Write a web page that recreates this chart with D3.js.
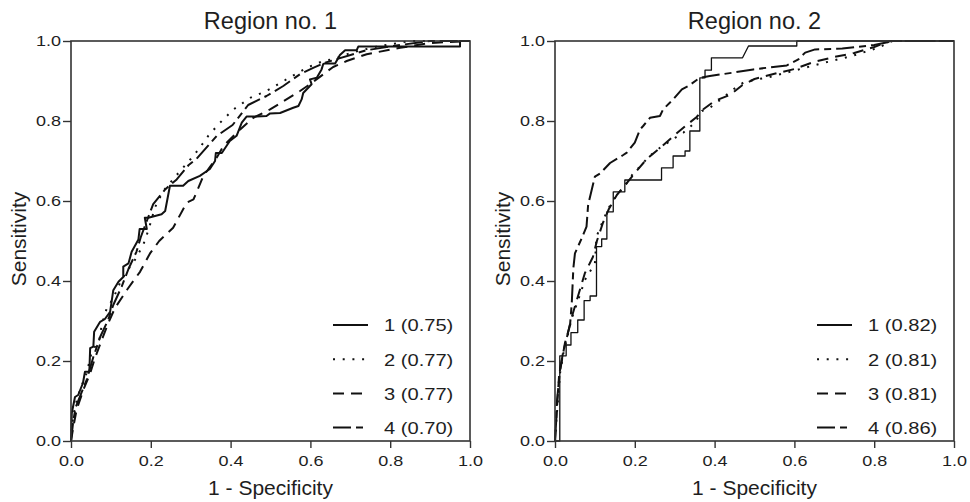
<!DOCTYPE html>
<html><head><meta charset="utf-8">
<script src="https://cdn.jsdelivr.net/npm/d3@7"></script>
<style>
body{margin:0;background:#fff}
svg{display:block}
text{font-family:"Liberation Sans",Arial,Helvetica,sans-serif;fill:#1e1e1e}
</style></head><body>
<svg id="c" width="970" height="502"></svg>
<script>
// ---- data ----
const titles = ["Region no. 1", "Region no. 2"];
const xTicks = [0, 0.2, 0.4, 0.6, 0.8, 1.0];
const yTicks = [0, 0.2, 0.4, 0.6, 0.8, 1.0];
const xLabel = "1 - Specificity";
const yLabel = "Sensitivity";
const seriesNames = ["1", "2", "3", "4"];
const aucR1 = ["0.75", "0.77", "0.77", "0.70"];
const aucR2 = ["0.82", "0.81", "0.81", "0.86"];

// Region 1 curves [1-specificity, sensitivity]
const r1s1 = [[0,0],[0.002,0.07],[0.01,0.11],[0.018,0.115],[0.03,0.145],[0.035,0.173],[0.046,0.173],[0.048,0.232],[0.056,0.236],[0.058,0.273],[0.073,0.298],[0.085,0.305],[0.098,0.323],[0.106,0.377],[0.119,0.398],[0.131,0.41],[0.131,0.436],[0.144,0.444],[0.152,0.473],[0.169,0.504],[0.172,0.53],[0.19,0.53],[0.185,0.558],[0.194,0.558],[0.227,0.567],[0.236,0.575],[0.248,0.638],[0.281,0.638],[0.294,0.65],[0.323,0.663],[0.348,0.68],[0.361,0.7],[0.363,0.72],[0.378,0.72],[0.398,0.75],[0.415,0.763],[0.428,0.796],[0.44,0.811],[0.465,0.811],[0.49,0.8125],[0.499,0.819],[0.524,0.82],[0.557,0.833],[0.57,0.8375],[0.578,0.854],[0.582,0.87],[0.603,0.892],[0.599,0.904],[0.616,0.908],[0.628,0.929],[0.632,0.942],[0.636,0.944],[0.662,0.944],[0.674,0.965],[0.687,0.977],[0.716,0.977],[0.72,0.986],[0.975,0.986],[0.975,1],[1,1]];
const r1s2 = [[0,0],[0.002,0.036],[0.01,0.086],[0.023,0.13],[0.039,0.169],[0.052,0.223],[0.071,0.2525],[0.077,0.29],[0.089,0.33],[0.106,0.357],[0.125,0.4],[0.144,0.43],[0.16,0.4525],[0.181,0.49],[0.195,0.53],[0.21,0.583],[0.231,0.625],[0.265,0.665],[0.3,0.705],[0.319,0.728],[0.344,0.763],[0.372,0.794],[0.406,0.828],[0.449,0.858],[0.49,0.875],[0.54,0.904],[0.591,0.933],[0.632,0.95],[0.66,0.955],[0.7,0.97],[0.766,0.986],[0.85,1],[1,1]];
const r1s3 = [[0,0],[0.006,0.036],[0.014,0.078],[0.031,0.128],[0.048,0.169],[0.06,0.207],[0.077,0.2525],[0.093,0.294],[0.11,0.332],[0.14,0.3775],[0.173,0.423],[0.198,0.469],[0.221,0.5],[0.256,0.533],[0.29,0.596],[0.307,0.604],[0.332,0.663],[0.365,0.708],[0.382,0.7375],[0.424,0.779],[0.457,0.808],[0.499,0.829],[0.54,0.854],[0.574,0.875],[0.599,0.892],[0.657,0.935],[0.691,0.95],[0.741,0.967],[0.825,0.983],[0.9,0.995],[1,1]];
const r1s4 = [[0,0],[0.006,0.0525],[0.012,0.085],[0.039,0.1525],[0.056,0.21],[0.073,0.26],[0.093,0.3025],[0.106,0.34],[0.127,0.386],[0.144,0.43],[0.164,0.473],[0.175,0.51],[0.19,0.55],[0.206,0.592],[0.236,0.629],[0.265,0.654],[0.295,0.69],[0.315,0.706],[0.365,0.7625],[0.405,0.79],[0.444,0.84],[0.49,0.8625],[0.532,0.8875],[0.574,0.917],[0.607,0.933],[0.637,0.946],[0.741,0.977],[0.825,0.99],[0.9,1],[1,1]];

// Region 2 curves
const r2s1 = [[0,0],[0.012,0],[0.012,0.213],[0.028,0.213],[0.028,0.24],[0.04,0.24],[0.04,0.271],[0.057,0.271],[0.057,0.3025],[0.073,0.3025],[0.073,0.351],[0.088,0.351],[0.088,0.3625],[0.104,0.3625],[0.104,0.486],[0.117,0.486],[0.117,0.505],[0.13,0.505],[0.13,0.573],[0.146,0.573],[0.146,0.623],[0.175,0.623],[0.175,0.6525],[0.267,0.6525],[0.267,0.683],[0.296,0.683],[0.296,0.7125],[0.326,0.7125],[0.326,0.725],[0.338,0.725],[0.338,0.775],[0.363,0.775],[0.363,0.908],[0.376,0.908],[0.376,0.927],[0.392,0.927],[0.392,0.958],[0.47,0.958],[0.485,0.9875],[0.606,0.9875],[0.606,1],[1,1]];
const r2s2 = [[0,0],[0.002,0.03],[0.004,0.06],[0.008,0.11],[0.0125,0.169],[0.021,0.219],[0.033,0.269],[0.042,0.307],[0.058,0.3525],[0.075,0.4025],[0.1,0.444],[0.104,0.511],[0.121,0.5525],[0.134,0.582],[0.155,0.615],[0.171,0.632],[0.196,0.669],[0.217,0.69],[0.234,0.71],[0.263,0.733],[0.301,0.758],[0.322,0.771],[0.351,0.796],[0.368,0.825],[0.388,0.833],[0.421,0.858],[0.447,0.879],[0.472,0.896],[0.505,0.904],[0.53,0.908],[0.581,0.921],[0.66,0.942],[0.744,0.9625],[0.81,0.983],[0.845,1],[1,1]];
const r2s3 = [[0,0],[0.003,0.05],[0.006,0.1],[0.01,0.16],[0.017,0.2],[0.025,0.245],[0.035,0.28],[0.045,0.32],[0.06,0.37],[0.075,0.42],[0.095,0.46],[0.105,0.5],[0.12,0.545],[0.135,0.58],[0.155,0.615],[0.18,0.645],[0.2,0.67],[0.23,0.705],[0.26,0.73],[0.3,0.765],[0.33,0.79],[0.355,0.81],[0.37,0.828],[0.4,0.85],[0.44,0.866],[0.47,0.89],[0.5,0.905],[0.55,0.918],[0.6,0.93],[0.65,0.948],[0.7,0.96],[0.75,0.97],[0.8,0.985],[0.84,1],[1,1]];
const r2s4 = [[0,0],[0.003,0.05],[0.005,0.1],[0.0125,0.1775],[0.02,0.22],[0.03,0.26],[0.038,0.294],[0.042,0.344],[0.046,0.432],[0.05,0.469],[0.067,0.507],[0.079,0.536],[0.083,0.59],[0.1,0.661],[0.113,0.669],[0.138,0.695],[0.171,0.715],[0.18,0.721],[0.2,0.746],[0.213,0.779],[0.221,0.7875],[0.238,0.808],[0.263,0.8125],[0.271,0.829],[0.296,0.854],[0.318,0.879],[0.334,0.8875],[0.363,0.908],[0.388,0.9125],[0.447,0.921],[0.497,0.929],[0.581,0.939],[0.61,0.954],[0.627,0.971],[0.652,0.979],[0.72,0.981],[0.8,0.99],[0.85,1],[1,1]];

// ---- drawing ----
const svg = d3.select("#c");
const W = 399, H = 400, topY = 41;
const dashes = [null, "2,7.7", "11,7", "18,5,7,5"];
const widths = [[2, 2, 2, 2], [1.3, 2, 2, 2]];
const panels = [
  {x0: 71, title: titles[0], series: [r1s1, r1s2, r1s3, r1s4], auc: aucR1},
  {x0: 555, title: titles[1], series: [r2s1, r2s2, r2s3, r2s4], auc: aucR2}
];
const numScale = 1.2;

panels.forEach((p, pi) => {
  const g = svg.append("g").attr("transform", `translate(${p.x0},${topY})`);
  const x = d3.scaleLinear().domain([0, 1]).range([0, W]);
  const y = d3.scaleLinear().domain([0, 1]).range([H, 0]);

  const line = d3.line().x(d => x(d[0])).y(d => y(d[1]));
  p.series.forEach((s, i) => {
    g.append("path").datum(s).attr("d", line)
      .attr("fill", "none").attr("stroke", "#111")
      .attr("stroke-width", widths[pi][i])
      .attr("stroke-linejoin", "round")
      .attr("stroke-dasharray", dashes[i]);
  });

  // frame
  g.append("rect").attr("x", 0).attr("y", 0).attr("width", W).attr("height", H)
    .attr("fill", "none").attr("stroke", "#333").attr("stroke-width", 1.6);

  // axes
  const xa = g.append("g").attr("transform", `translate(0,${H})`)
    .call(d3.axisBottom(x).tickValues(xTicks).tickSize(7).tickPadding(7).tickFormat(d3.format(".1f")));
  const ya = g.append("g")
    .call(d3.axisLeft(y).tickValues(yTicks).tickSize(8).tickPadding(2).tickFormat(d3.format(".1f")));
  [xa, ya].forEach(a => {
    a.select(".domain").remove();
    a.attr("font-size", 15).attr("font-family", null);
    a.selectAll(".tick line").attr("stroke", "#333").attr("stroke-width", 1.4);
    a.selectAll(".tick text").attr("fill", "#1e1e1e").attr("transform", `scale(${numScale},1)`);
  });
  ya.selectAll(".tick text").attr("x", -10 / numScale);

  // title
  svg.append("text").attr("x", p.x0 + W / 2).attr("y", 28.5)
    .attr("text-anchor", "middle").attr("font-size", 23.5).text(p.title);
  // x label
  svg.append("text").attr("x", p.x0 + W / 2).attr("y", 495)
    .attr("text-anchor", "middle").attr("font-size", 21).text(xLabel);
  // y label
  svg.append("text").attr("transform", `translate(${p.x0 - 45.5},239) rotate(-90)`)
    .attr("text-anchor", "middle").attr("font-size", 21).text(yLabel);

  // legend
  seriesNames.forEach((n, i) => {
    const ly = 325 - topY + i * 34.2;
    g.append("line").attr("x1", 262).attr("x2", 297).attr("y1", ly).attr("y2", ly)
      .attr("stroke", "#111").attr("stroke-width", 2).attr("stroke-dasharray", dashes[i]);
    g.append("text").attr("transform", `translate(313,${ly + 6.3}) scale(1.22,1)`)
      .attr("font-size", 16.5).text(`${n} (${p.auc[i]})`);
  });
});
</script>
</body></html>
